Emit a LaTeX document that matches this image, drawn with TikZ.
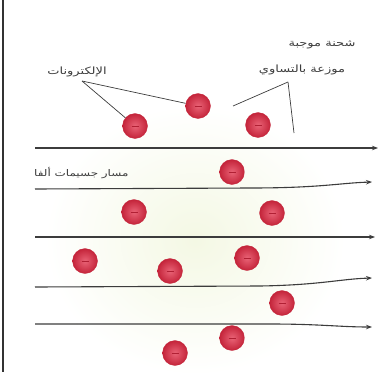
\documentclass[tikz,border=0pt]{standalone}
\usepackage{fontspec}
\newfontfamily\arabicfont[Script=Arabic,FakeStretch=1.3]{DejaVu Sans}
\TeXXeTstate=1
\usetikzlibrary{arrows.meta}
\definecolor{ered}{RGB}{228,60,84}
\definecolor{edark}{RGB}{196,36,58}
\definecolor{cloud}{RGB}{244,248,228}
\definecolor{ink}{RGB}{60,60,60}
\begin{document}
\begin{tikzpicture}[x=1pt,y=-1pt,
  electron/.style={circle,minimum size=25pt,inner sep=0pt,
    shading=radial,inner color=ered!80!white,outer color=edark,draw=edark,line width=0.3pt,
    path picture={\draw[edark!90!black,line width=0.6pt] ([xshift=-3.5pt]path picture bounding box.center) -- ([xshift=3.5pt]path picture bounding box.center);}},
  path/.style={draw=ink,line width=1.1pt,-{Stealth[length=6pt,width=4.5pt]}},
  lead/.style={draw=ink,line width=0.7pt},
  lbl/.style={font=\arabicfont\fontsize{10}{12}\selectfont,text=ink,inner sep=1pt}]
\useasboundingbox (0,0) rectangle (382,372);
% positive charge cloud
\shade[inner color=cloud,outer color=white] (195,240) ellipse (150 and 135);
% left border
\draw[line width=2pt,black!80] (3,0) -- (3,372);
% alpha paths
\coordinate (a1s) at (35,148); \coordinate (a1e) at (378,148);
\coordinate (a2s) at (35,189); \coordinate (a2e) at (372,182);
\coordinate (a3s) at (35,237); \coordinate (a3e) at (375,237);
\coordinate (a4s) at (35,287); \coordinate (a4e) at (372,278);
\coordinate (a5s) at (35,324); \coordinate (a5e) at (372,327);
\draw[path] (a1s) -- (a1e);
\draw[path] (a2s) -- (250,188) .. controls (320,188) and (340,183) .. (a2e);
\draw[path] (a3s) -- (a3e);
\draw[path] (a4s) -- (260,286) .. controls (320,285) and (340,279) .. (a4e);
\draw[path] (a5s) -- (270,324) .. controls (320,324) and (340,327) .. (a5e);
% electrons
\node[electron] (e1) at (135,126) {};
\node[electron] (e2) at (198,106) {};
\node[electron] (e3) at (258,125) {};
\node[electron] (e4) at (232,172) {};
\node[electron] (e5) at (134,212) {};
\node[electron] (e6) at (272,213) {};
\node[electron] (e7) at (85,261) {};
\node[electron] (e8) at (170,271) {};
\node[electron] (e9) at (247,258) {};
\node[electron] (e10) at (282,303) {};
\node[electron] (e11) at (232,338) {};
\node[electron] (e12) at (175,353) {};
% labels
\node[lbl] (lel) at (77,72) {\beginR الإلكترونات\endR};
\node[lbl] (lpos1) at (322,45) {\beginR شحنة موجبة\endR};
\node[lbl] (lpos2) at (302,70) {\beginR موزعة بالتساوي\endR};
\node[lbl,anchor=west,font=\arabicfont\fontsize{9.2}{12}\selectfont] (lpath) at (33,173) {\beginR مسار جسيمات ألفا\endR};
% leaders
\coordinate (p1) at (82,81);
\coordinate (p2) at (288,82);
\coordinate (q1) at (233,106);
\coordinate (q2) at (294,133);
\draw[lead] (p1) -- (e1);
\draw[lead] (p1) -- (e2);
\draw[lead] (p2) -- (q1);
\draw[lead] (p2) -- (q2);
\end{tikzpicture}
\end{document}
